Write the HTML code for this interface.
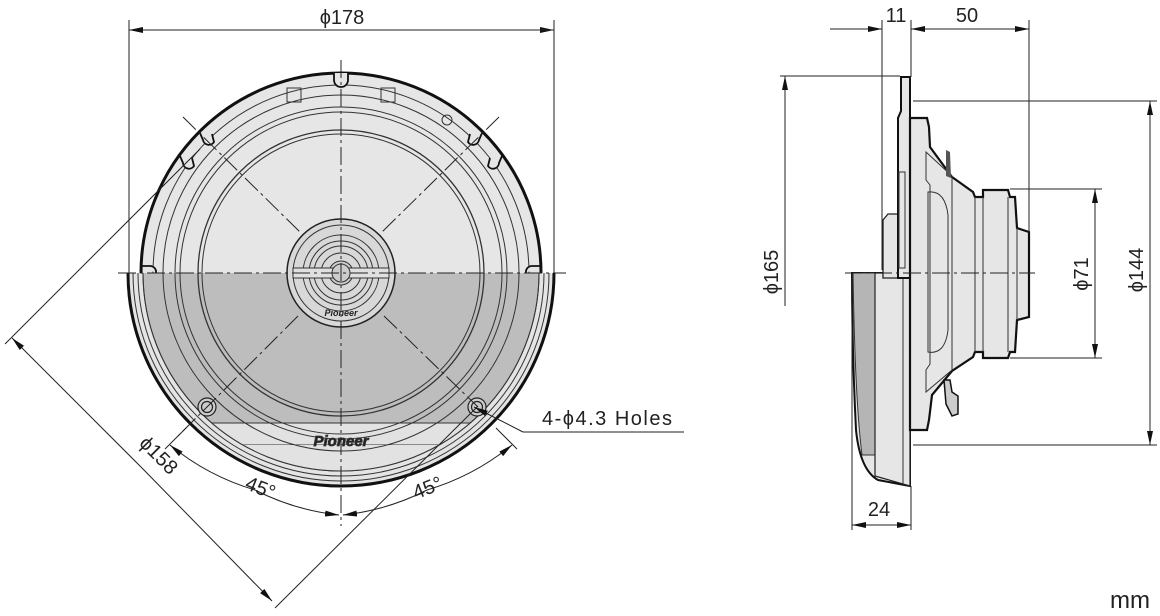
<!DOCTYPE html>
<html><head><meta charset="utf-8"><style>
html,body{margin:0;padding:0;background:#fff;}
svg{display:block;}
text{font-family:"Liberation Sans",sans-serif;fill:#222;}
</style></head><body>
<svg width="1160" height="616" viewBox="0 0 1160 616" xmlns="http://www.w3.org/2000/svg">
<defs>
<marker id="a" viewBox="0 0 14 6" refX="14" refY="3" markerWidth="14" markerHeight="6" orient="auto" markerUnits="userSpaceOnUse"><path d="M0,0 L14,3 L0,6 Z" fill="#111"/></marker>
<clipPath id="top"><rect x="0" y="0" width="1160" height="273"/></clipPath>
<clipPath id="bot"><rect x="0" y="273" width="1160" height="400"/></clipPath>
<clipPath id="inner"><circle cx="341" cy="273" r="198"/></clipPath>
</defs>

<!-- ===== LEFT VIEW ===== -->
<g clip-path="url(#bot)">
<circle cx="341" cy="273" r="213" fill="#e4e4e4" stroke="#111" stroke-width="3"/>
<circle cx="341" cy="273" r="208" fill="none" stroke="#333" stroke-width="1"/>
<circle cx="341" cy="273" r="203" fill="none" stroke="#333" stroke-width="1"/>
<circle cx="341" cy="273" r="198" fill="#bdbdbd" stroke="#333" stroke-width="1"/>
<g clip-path="url(#inner)">
<rect x="150" y="423" width="382" height="22" fill="#e2e2e2" stroke="#333" stroke-width="1"/>
<rect x="150" y="445" width="382" height="40" fill="#e2e2e2"/>
</g>
<circle cx="341" cy="273" r="198" fill="none" stroke="#333" stroke-width="1"/>
<circle cx="341" cy="273" r="178" fill="none" stroke="#333" stroke-width="1"/>
<circle cx="341" cy="273" r="166" fill="none" stroke="#333" stroke-width="1"/>
<circle cx="341" cy="273" r="161" fill="none" stroke="#333" stroke-width="1"/>
<circle cx="341" cy="273" r="143" fill="none" stroke="#333" stroke-width="1.3"/>
<circle cx="341" cy="273" r="139" fill="none" stroke="#333" stroke-width="1"/>
</g>
<g clip-path="url(#top)">
<circle cx="341" cy="273" r="200" fill="#e6e6e6" stroke="#111" stroke-width="3"/>
<circle cx="341" cy="273" r="188" fill="none" stroke="#333" stroke-width="1"/>
<circle cx="341" cy="273" r="178" fill="none" stroke="#333" stroke-width="1"/>
<circle cx="341" cy="273" r="166" fill="none" stroke="#333" stroke-width="1"/>
<circle cx="341" cy="273" r="161" fill="none" stroke="#333" stroke-width="1"/>
<circle cx="341" cy="273" r="143" fill="none" stroke="#333" stroke-width="1.3"/>
<circle cx="341" cy="273" r="139" fill="none" stroke="#333" stroke-width="1"/>
<g fill="#e6e6e6" stroke="#111" stroke-width="1.8">
<path d="M334,73 L334,80 A7,7 0 0,0 348,80 L348,73"/>
<path d="M200,133 L203,140 A6,6 0 0,0 214,142 L212,134"/>
<path d="M180,156 L183,163 A6,6 0 0,0 194,166 L192,158"/>
<path d="M482,133 L479,140 A6,6 0 0,1 468,142 L470,134"/>
<path d="M502,156 L499,163 A6,6 0 0,1 488,166 L490,158"/>
<path d="M141,266 L150,266 A6,6 0 0,1 156,273"/>
<path d="M541,266 L532,266 A6,6 0 0,0 526,273"/>
</g>
<rect x="287" y="88" width="14" height="14" fill="none" stroke="#333"/>
<rect x="381" y="88" width="14" height="14" fill="none" stroke="#333"/>
<circle cx="447" cy="120" r="5" fill="none" stroke="#333"/>
</g>
<!-- tweeter -->
<circle cx="341" cy="273" r="54" fill="#d8d8d8" stroke="#222" stroke-width="1.5"/>
<circle cx="341" cy="273" r="48" fill="none" stroke="#333"/>
<circle cx="341" cy="273" r="38" fill="none" stroke="#333"/>
<circle cx="341" cy="273" r="32" fill="none" stroke="#333"/>
<circle cx="341" cy="273" r="27" fill="none" stroke="#333"/>
<circle cx="341" cy="273" r="20" fill="none" stroke="#333"/>
<circle cx="341" cy="273" r="12" fill="#ccc" stroke="#333"/>
<path d="M293,268 L389,268 L389,278 L293,278 Z" fill="#e0e0e0" stroke="#333" stroke-width="1"/>
<circle cx="341" cy="273" r="9" fill="#ccc" stroke="#333"/>
<text x="341" y="316" font-size="9" font-style="italic" font-weight="bold" text-anchor="middle" fill="#444">Pioneer</text>
<text x="341" y="446" font-size="15" font-style="italic" font-weight="bold" text-anchor="middle" fill="#e8e8e8" stroke="#333" stroke-width="0.8">Pioneer</text>
<g fill="#ccc" stroke="#222" stroke-width="1.2">
<circle cx="207" cy="407" r="9"/><circle cx="207" cy="407" r="5.5" fill="none"/>
<circle cx="477" cy="407" r="9"/><circle cx="477" cy="407" r="5.5" fill="none"/>
</g>
<g stroke="#222" stroke-width="1" stroke-dasharray="18,4,3,4" fill="none">
<line x1="118" y1="273" x2="566" y2="273"/>
<line x1="341" y1="60" x2="341" y2="526"/>
<line x1="183" y1="117" x2="302" y2="234"/>
<line x1="499" y1="117" x2="380" y2="234"/>
<line x1="298" y1="316" x2="176" y2="438"/>
<line x1="384" y1="316" x2="478" y2="407"/>
</g>
<g stroke="#222" stroke-width="1" fill="none">
<line x1="129" y1="20" x2="129" y2="273"/>
<line x1="554" y1="20" x2="554" y2="273"/>
<line x1="129" y1="30" x2="554" y2="30" marker-end="url(#a)"/>
<line x1="554" y1="30" x2="129" y2="30" marker-end="url(#a)"/>
<line x1="200" y1="149" x2="5" y2="344"/>
<line x1="478" y1="406" x2="275" y2="608"/>
<line x1="142" y1="468" x2="12" y2="338" marker-end="url(#a)"/>
<line x1="142" y1="468" x2="272" y2="601" marker-end="url(#a)"/>
<line x1="186" y1="428" x2="165" y2="449"/>
<line x1="496" y1="428" x2="517" y2="449"/>
<path d="M255,490 A242,242 0 0,1 170,445" marker-end="url(#a)"/>
<path d="M255,490 A242,242 0 0,0 339,515" marker-end="url(#a)"/>
<path d="M427,490 A242,242 0 0,0 512,445" marker-end="url(#a)"/>
<path d="M427,490 A242,242 0 0,1 343,515" marker-end="url(#a)"/>
<polyline points="523,432 684,432"/>
<line x1="523" y1="432" x2="474" y2="407" marker-end="url(#a)"/>
</g>
<text x="342" y="24" font-size="20" text-anchor="middle">ϕ178</text>
<text x="542" y="425" font-size="20" letter-spacing="1.5">4-ϕ4.3 Holes</text>
<text transform="translate(154,460) rotate(45)" font-size="20" text-anchor="middle">ϕ158</text>
<text transform="translate(258,494) rotate(22)" font-size="20" text-anchor="middle">45°</text>
<text transform="translate(430,494) rotate(-22)" font-size="20" text-anchor="middle">45°</text>

<!-- ===== RIGHT VIEW ===== -->
<path d="M852,273 L910,273 L910,486 L878,480 Q860,470 856,430 Q852,350 852,273 Z" fill="#e6e6e6" stroke="#111" stroke-width="2"/>
<path d="M853,273 L875,273 L875,455 L862,455 Q855,400 853,273 Z" fill="#b5b5b5" stroke="#333" stroke-width="1"/>
<path d="M875,273 L910,273 L910,486 L875,476 Z" fill="#e6e6e6" stroke="#222" stroke-width="1.2"/>
<line x1="903" y1="273" x2="903" y2="484" stroke="#333"/>
<path d="M883,278 L883,220 L888,214 L898,214 L898,278 Z" fill="#e6e6e6" stroke="#222" stroke-width="1.3"/>
<path d="M898,278 L898,118 L901,111 L901,77 L910,77 L910,278 Z" fill="#e6e6e6" stroke="#111" stroke-width="2"/>
<rect x="899" y="172" width="6" height="96" fill="none" stroke="#333"/>
<path d="M910,118 L927,118 L929,127 L930,147 L952,177 L973,192 L975,197 L983,197 L983,190 L1008,190 L1010,197 L1015,197 L1017,228 L1029,232 L1029,317 L1017,320 L1015,352 L1010,352 L1008,358 L983,358 L983,352 L975,352 L973,357 L952,371 L932,395 L929,420 L927,430 L910,430 Z" fill="#e6e6e6" stroke="#111" stroke-width="2.2"/>
<g stroke="#333" stroke-width="1" fill="none">
<path d="M926,152 L952,176 L952,370 L926,392 L926,370 L930,364 L930,185 L926,180 Z"/>
<path d="M928,192 Q945,190 948,215 L948,330 Q945,355 928,352 Z"/>
<line x1="975" y1="197" x2="975" y2="352"/>
<line x1="983" y1="197" x2="983" y2="352"/>
<line x1="1008" y1="197" x2="1008" y2="352"/>
<line x1="1017" y1="228" x2="1017" y2="320"/>
</g>
<path d="M946,150 L950,152 L951,178 L946,176 Z" fill="#555"/>
<path d="M944,380 L950,380 L952,392 L958,396 L958,414 L952,416 L946,404 Z" fill="#ccc" stroke="#111" stroke-width="1.5"/>
<line x1="845" y1="273" x2="1035" y2="273" stroke="#222" stroke-dasharray="18,4,3,4"/>
<g stroke="#222" stroke-width="1" fill="none">
<line x1="882" y1="20" x2="882" y2="270"/>
<line x1="911" y1="20" x2="911" y2="77"/>
<line x1="1029" y1="20" x2="1029" y2="232"/>
<line x1="830" y1="29" x2="882" y2="29" marker-end="url(#a)"/>
<line x1="960" y1="29" x2="911" y2="29" marker-end="url(#a)"/>
<line x1="960" y1="29" x2="1029" y2="29" marker-end="url(#a)"/>
<line x1="780" y1="76" x2="900" y2="76"/>
<line x1="785" y1="306" x2="785" y2="76" marker-end="url(#a)"/>
<line x1="913" y1="101" x2="1157" y2="101"/>
<line x1="913" y1="445" x2="1157" y2="445"/>
<line x1="1150" y1="273" x2="1150" y2="101" marker-end="url(#a)"/>
<line x1="1150" y1="273" x2="1150" y2="445" marker-end="url(#a)"/>
<line x1="1010" y1="189" x2="1102" y2="189"/>
<line x1="1010" y1="358" x2="1102" y2="358"/>
<line x1="1095" y1="273" x2="1095" y2="189" marker-end="url(#a)"/>
<line x1="1095" y1="273" x2="1095" y2="358" marker-end="url(#a)"/>
<line x1="852" y1="273" x2="852" y2="530"/>
<line x1="911" y1="486" x2="911" y2="530"/>
<line x1="880" y1="525" x2="852" y2="525" marker-end="url(#a)"/>
<line x1="880" y1="525" x2="911" y2="525" marker-end="url(#a)"/>
</g>
<text x="896" y="22" font-size="20" text-anchor="middle">11</text>
<text x="967" y="22" font-size="20" text-anchor="middle">50</text>
<text x="879" y="516" font-size="20" text-anchor="middle">24</text>
<text transform="translate(778,272) rotate(-90)" font-size="20" text-anchor="middle">ϕ165</text>
<text transform="translate(1088,274) rotate(-90)" font-size="20" text-anchor="middle">ϕ71</text>
<text transform="translate(1143,270) rotate(-90)" font-size="20" text-anchor="middle">ϕ144</text>
<text x="1130" y="608" font-size="24" text-anchor="middle">mm</text>
</svg>
</body></html>
